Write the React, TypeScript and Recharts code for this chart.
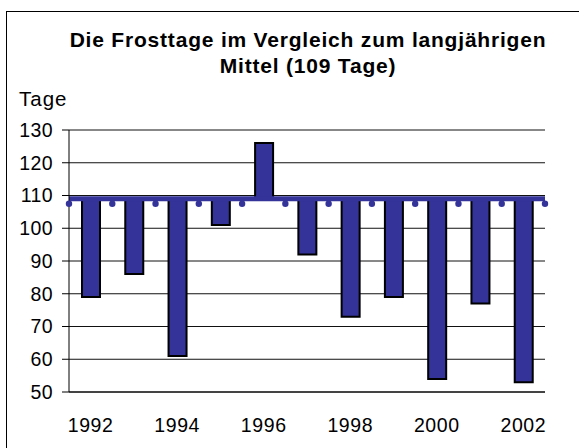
import {
  ComposedChart,
  Bar,
  Line,
  XAxis,
  YAxis,
  CartesianGrid,
} from "recharts";

const years = ["1992", "1993", "1994", "1995", "1996", "1997", "1998", "1999", "2000", "2001", "2002"];
const frostDays = [79, 86, 61, 101, 126, 92, 73, 79, 54, 77, 53];
const MEAN = 109;
const yTicks = [50, 60, 70, 80, 90, 100, 110, 120, 130];

// bars float from the long-term mean up or down
const data = years.map((year, i) => ({
  year,
  range: [Math.min(frostDays[i], MEAN), Math.max(frostDays[i], MEAN)],
}));

// mean line runs across the category boundaries (one point more than years)
const meanData = Array.from({ length: years.length + 1 }, (_, i) => ({ pos: i, mean: MEAN }));

const font = '"Liberation Sans", Arial, sans-serif';
const blue = "#333399";

const MeanDot = (props: any) => {
  const { cx, cy, index } = props;
  return <circle key={`d${index}`} cx={cx} cy={cy + 5} r={3.2} fill={blue} />;
};

export default function App() {
  return (
    <div
      style={{
        position: "absolute",
        left: 0,
        top: 0,
        width: 579,
        height: 448,
        overflow: "hidden",
        background: "#fff",
        fontFamily: font,
      }}
    >
      <div
        style={{
          position: "absolute",
          left: 6,
          top: 11,
          width: 700,
          height: 600,
          border: "1px solid #000",
        }}
      />
      <div
        style={{
          position: "absolute",
          left: 58,
          width: 500,
          top: 27,
          textAlign: "center",
          fontWeight: "bold",
          fontSize: 21,
          letterSpacing: 0.8,
          lineHeight: "26px",
          color: "#000",
        }}
      >
        Die Frosttage im Vergleich zum langjährigen
        <br />
        Mittel (109 Tage)
      </div>
      <div
        style={{
          position: "absolute",
          left: 19,
          top: 89,
          fontSize: 20.5,
          letterSpacing: 1,
          lineHeight: 1,
          color: "#000",
        }}
      >
        Tage
      </div>
      <ComposedChart
        width={579}
        height={448}
        data={data}
        margin={{ top: 130, right: 34, bottom: 26, left: 8 }}
        style={{ position: "absolute", left: 0, top: 0 }}
      >
        <CartesianGrid vertical={false} stroke="#111" />
        <XAxis
          dataKey="year"
          interval={1}
          tickLine={false}
          tickSize={0}
          tickMargin={26}
          height={30}
          axisLine={{ stroke: "#000" }}
          tick={{ fill: "#000", fontSize: 19.5, fontFamily: font, letterSpacing: 0.6 }}
        />
        <XAxis xAxisId="m" dataKey="pos" type="number" domain={[0, years.length]} hide />
        <YAxis
          domain={[50, 130]}
          ticks={yTicks}
          interval={0}
          width={61}
          tickSize={7}
          tickMargin={9}
          axisLine={{ stroke: "#000" }}
          tickLine={{ stroke: "#000" }}
          tick={{ fill: "#000", fontSize: 19.5, fontFamily: font, letterSpacing: 0.4 }}
        />
        <YAxis
          yAxisId="r"
          orientation="right"
          width={0}
          tick={false}
          tickLine={false}
          axisLine={{ stroke: "#888" }}
        />
        <Bar
          dataKey="range"
          fill={blue}
          stroke="#000"
          strokeWidth={2}
          barSize={18}
          isAnimationActive={false}
        />
        <Line
          xAxisId="m"
          data={meanData}
          dataKey="mean"
          stroke={blue}
          strokeWidth={5}
          dot={MeanDot}
          activeDot={false}
          isAnimationActive={false}
        />
      </ComposedChart>
    </div>
  );
}
